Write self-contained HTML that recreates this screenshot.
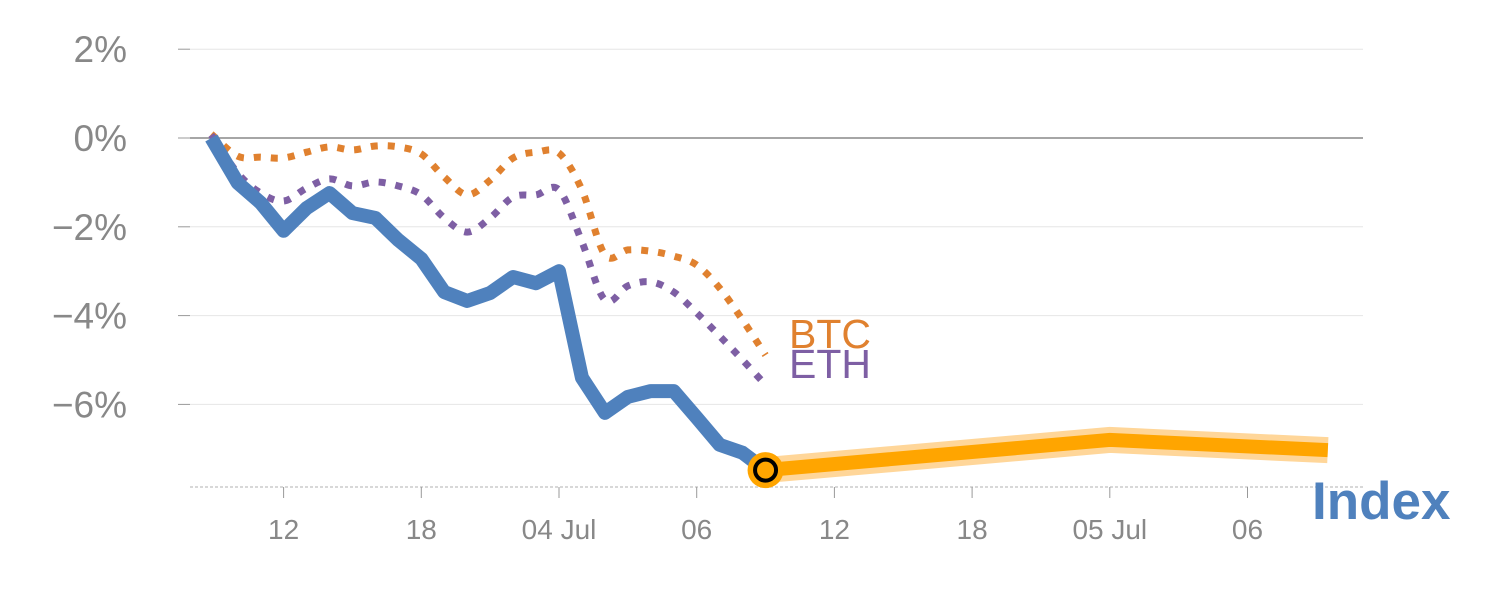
<!DOCTYPE html>
<html><head><meta charset="utf-8"><style>
html,body{margin:0;padding:0;background:#fff;}
svg{display:block;font-family:"Liberation Sans",sans-serif;}
</style></head><body>
<svg id="chart" width="1500" height="600"></svg>
<script>
const hours=[-15.15,-14,-13,-12,-11,-10,-9,-8,-7,-6,-5,-4,-3,-2,-1,0,1,2,3,4,5,6,7,8,9];
const indexVals=[0,-1.01,-1.46,-2.09,-1.58,-1.24,-1.69,-1.80,-2.30,-2.72,-3.47,-3.67,-3.49,-3.13,-3.27,-3.0,-5.4,-6.19,-5.83,-5.70,-5.70,-6.3,-6.91,-7.09,-7.48];
const btcVals=[0.09,-0.41,-0.43,-0.45,-0.32,-0.20,-0.27,-0.18,-0.20,-0.36,-0.88,-1.28,-0.95,-0.45,-0.32,-0.34,-1.17,-2.63,-2.52,-2.55,-2.66,-2.86,-3.38,-4.10,-4.89];
const ethVals=[0.07,-0.79,-1.24,-1.42,-1.13,-0.92,-1.08,-0.99,-1.08,-1.28,-1.80,-2.12,-1.80,-1.33,-1.28,-1.17,-2.34,-3.65,-3.33,-3.24,-3.47,-3.94,-4.46,-5.00,-5.56];
const forecastHours=[9,24,33.5];
const forecastVals=[-7.48,-6.8,-7.03];
const yTicks=[2,0,-2,-4,-6];
const yTickLabels=["2%","0%","\u22122%","\u22124%","\u22126%"];
const xTicks=[-12,-6,0,6,12,18,24,30];
const xTickLabels=["12","18","04 Jul","06","12","18","05 Jul","06"];

const NS="http://www.w3.org/2000/svg";
const svg=document.getElementById('chart');
const X=h=>559+h*22.95;
const Y=v=>138-v*44.4;
function el(tag,attrs,parent){const e=document.createElementNS(NS,tag);for(const k in attrs)e.setAttribute(k,attrs[k]);(parent||svg).appendChild(e);return e;}

yTicks.forEach((t,i)=>{
  const g=el('line',{x1:190,x2:1363,y1:Y(t),y2:Y(t),stroke:t===0?'#888':'#e6e6e6','stroke-width':t===0?1.5:1});
  
  
  const tk=el('line',{x1:178,x2:190,y1:Y(t),y2:Y(t),stroke:'#999','stroke-width':1});
  
  
  const tx=el('text',{x:127,y:Y(t)+13,'text-anchor':'end','font-size':37,fill:'#888'});
  tx.textContent=yTickLabels[i];
  
  
});
const base=el('line',{x1:190,x2:1363,y1:487,y2:487,stroke:'#ccc','stroke-width':1.5,'stroke-dasharray':'3 2'});


xTicks.forEach((t,i)=>{
  const tk=el('line',{x1:X(t),x2:X(t),y1:487,y2:498,stroke:'#999','stroke-width':1});
  
  
  const tx=el('text',{x:X(t),y:539,'text-anchor':'middle','font-size':28,fill:'#888'});
  tx.textContent=xTickLabels[i];
  
  
});

function smooth(pts){
  let d=`M${pts[0][0]},${pts[0][1]}`;
  for(let i=0;i<pts.length-1;i++){
    const p0=pts[i-1]||pts[i],p1=pts[i],p2=pts[i+1],p3=pts[i+2]||p2;
    const c1=[p1[0]+(p2[0]-p0[0])/6,p1[1]+(p2[1]-p0[1])/6];
    const c2=[p2[0]-(p3[0]-p1[0])/6,p2[1]-(p3[1]-p1[1])/6];
    d+=` C${c1[0]},${c1[1]} ${c2[0]},${c2[1]} ${p2[0]},${p2[1]}`;
  }
  return d;
}
const btc=el('path',{d:smooth(hours.map((h,i)=>[X(h),Y(btcVals[i])])),fill:'none',stroke:'#e0812f','stroke-width':7,'stroke-dasharray':'7 10'});


const eth=el('path',{d:smooth(hours.map((h,i)=>[X(h),Y(ethVals[i])])),fill:'none',stroke:'#7e5fa4','stroke-width':7,'stroke-dasharray':'7 10'});



const idx=el('polyline',{points:hours.map((h,i)=>X(h)+','+Y(indexVals[i])).join(' '),fill:'none',stroke:'#4f81bd','stroke-width':14,'stroke-linejoin':'round'});



const fpts=forecastHours.map((h,i)=>X(h)+','+Y(forecastVals[i])).join(' ');
const halo=el('polyline',{points:fpts,fill:'none',stroke:'#ffd699','stroke-width':26});


const fl=el('polyline',{points:fpts,fill:'none',stroke:'#ffa500','stroke-width':14});



const last=hours.length-1;
const m1=el('circle',{cx:X(hours[last]),cy:Y(indexVals[last]),r:18,fill:'#ffa500'});


const m2=el('circle',{cx:X(hours[last]),cy:Y(indexVals[last]),r:10.5,fill:'#ffa500',stroke:'#000','stroke-width':4});



const lb=el('text',{x:789,y:348,'font-size':41,fill:'#e0812f'});lb.textContent='BTC';


const le=el('text',{x:789,y:378,'font-size':41,fill:'#7e5fa4'});le.textContent='ETH';


const li=el('text',{x:1312,y:519,'font-size':53,'font-weight':'bold',fill:'#4f81bd'});li.textContent='Index';


</script>
</body></html>
